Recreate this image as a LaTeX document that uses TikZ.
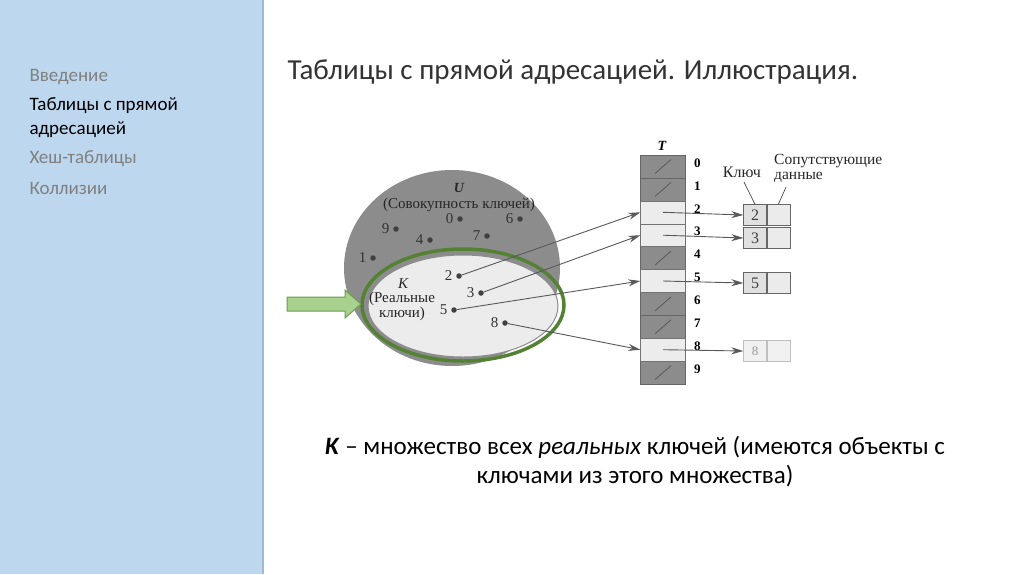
\documentclass[tikz,border=0pt]{standalone}
\usepackage{fontspec}
\setmainfont{Carlito}
\newfontfamily\bookfont{Liberation Serif}
\usetikzlibrary{positioning,shapes.geometric,arrows.meta}

\definecolor{panel}{HTML}{BDD7EE}
\definecolor{panelline}{HTML}{9DB9D3}
\definecolor{menugray}{HTML}{808080}
\definecolor{darkcell}{HTML}{8C8C8C}
\definecolor{lightcell}{HTML}{ECECEC}
\definecolor{kgreen}{HTML}{548235}
\definecolor{arrowfill}{HTML}{A9D18E}
\definecolor{arrowline}{HTML}{6E9A4E}

\tikzset{
  menu/.style={anchor=west,text=menugray,font=\fontsize{19}{24}\selectfont},
  darkslot/.style={draw=black!60,fill=darkcell,minimum width=45pt,minimum height=22.9pt,inner sep=0pt},
  lightslot/.style={draw=black!55,fill=lightcell,minimum width=45pt,minimum height=22.9pt,inner sep=0pt},
  idx/.style={font=\bookfont\bfseries\fontsize{13}{13}\selectfont,anchor=west,inner sep=0pt},
  keybox/.style={draw=black!60,fill=black!12,minimum width=23pt,minimum height=21pt,inner sep=0pt,
    font=\bookfont\fontsize{16}{16}\selectfont,text=black!75},
  databox/.style={keybox,fill=black!8},
  faded/.style={draw=black!25,text=black!40,fill=black!6},
  kdot/.style={circle,fill=black!75,inner sep=0pt,minimum size=5.5pt},
  lbl/.style={font=\bookfont\fontsize{15}{15}\selectfont,text=black!80,inner sep=1pt,label distance=2.5pt},
  ptr/.style={draw=black!65,line width=0.9pt,-{Stealth[length=12pt,width=7pt]}},
  note/.style={font=\bookfont\fontsize{15}{15}\selectfont,text=black!85,inner sep=0pt}
}

\begin{document}
\begin{tikzpicture}[x=1pt,y=-1pt]
\useasboundingbox (0,0) rectangle (1024,574);
\fill[white] (0,0) rectangle (1024,574);

% left panel
\fill[panel] (0,0) rectangle (263,574);
\draw[panelline,line width=1.2pt] (263,0) -- (263,574);
\node[menu] (m1) at (26,77) {Введение};
\node[menu,text=black,align=left] (m2) at (26,118) {Таблицы с прямой\\адресацией};
\node[menu] (m3) at (26,159) {Хеш-таблицы};
\node[menu] (m4) at (26,188) {Коллизии};

% title
\node[anchor=west,text=black!80,font=\fontsize{29}{33}\selectfont] (title) at (284,72)
  {Таблицы с прямой адресацией. Иллюстрация.};

% universe and real keys
\node[ellipse,fill=darkcell,minimum width=216pt,minimum height=196pt] (U) at (452,268) {};
\node[ellipse,fill=lightcell,draw=black!45,line width=1pt,minimum width=190pt,minimum height=102pt] (K) at (463,306) {};
\node[ellipse,draw=kgreen,line width=3.5pt,minimum width=202pt,minimum height=112pt] (Kring) at (463,305) {};

\node[note,font=\bookfont\bfseries\itshape\fontsize{14}{14}\selectfont] (Ulab) at (459,188) {U};
\node[note] (Utxt) at (459,205) {(Совокупность ключей)};
\node[note,font=\bookfont\itshape\fontsize{15}{15}\selectfont] (Klab) at (403,284) {K};
\node[note,align=center] (Ktxt) at (402,306) {(Реальные\\ключи)};

% keys
\node[kdot,label={[lbl]left:0}] (k0) at (460,219) {};
\node[kdot,label={[lbl]left:6}] (k6) at (520,219) {};
\node[kdot,label={[lbl]left:9}] (k9) at (396,229) {};
\node[kdot,label={[lbl]left:4}] (k4) at (430,240) {};
\node[kdot,label={[lbl]left:7}] (k7) at (487,236) {};
\node[kdot,label={[lbl]left:1}] (k1) at (373,258) {};
\node[kdot,label={[lbl]left:2}] (k2) at (459,276) {};
\node[kdot,label={[lbl]left:3}] (k3) at (481,293) {};
\node[kdot,label={[lbl]left:5}] (k5) at (454,310) {};
\node[kdot,label={[lbl]left:8}] (k8) at (505,323) {};

% green pointer
\filldraw[fill=arrowfill,draw=arrowline,line width=1pt]
  (287,297) -- (345,297) -- (345,290) -- (361,304) -- (345,318) -- (345,311) -- (287,311) -- cycle;

% table T
\node[font=\bookfont\bfseries\itshape\fontsize{14}{14}\selectfont] (T) at (662,146) {T};
\foreach \i in {0,1,4,6,7,9} {
  \node[darkslot] (c\i) at (663,{166.5+22.9*\i}) {};
  \draw[black!65,line width=0.8pt] ([shift={(-8,7)}]c\i.center) -- ([shift={(8,-7)}]c\i.center);
}
\foreach \i in {2,3,5,8}
  \node[lightslot] (c\i) at (663,{166.5+22.9*\i}) {};
\foreach \i in {0,...,9}
  \node[idx] (n\i) at (694,{163+22.9*\i}) {\i};

% records
\node[keybox] (key2) at (755,215) {2};
\node[databox,right=0pt of key2] (dat2) {};
\node[keybox] (key3) at (755,238) {3};
\node[databox,right=0pt of key3] (dat3) {};
\node[keybox] (key5) at (755,283) {5};
\node[databox,right=0pt of key5] (dat5) {};
\node[keybox,faded,font=\bookfont\fontsize{13}{13}\selectfont] (key8) at (755,351) {8};
\node[databox,faded,right=0pt of key8] (dat8) {};

\node[note,font=\bookfont\fontsize{16}{16}\selectfont] (keyname) at (742,172) {Ключ};
\node[note,align=left,anchor=north west,font=\bookfont\fontsize{15.5}{15.5}\selectfont] (extra) at (774,154) {Сопутствующие\\данные};
\draw[black!70,line width=0.7pt] (744,182) -- (key2.north);
\draw[black!70,line width=0.7pt] (786,187) -- (dat2.north);

% pointers
\foreach \i in {2,3,5,8} {
  \draw[ptr] (c\i.center) -- (key\i.west);
  \draw[ptr] (k\i) -- (c\i.west);
}

% caption
\node[align=center,font=\fontsize{25}{29}\selectfont] (caption) at (635,462)
  {\textbf{\textit{K}} – множество всех \textit{реальных} ключей (имеются объекты с\\ключами из этого множества)};
\end{tikzpicture}
\end{document}
